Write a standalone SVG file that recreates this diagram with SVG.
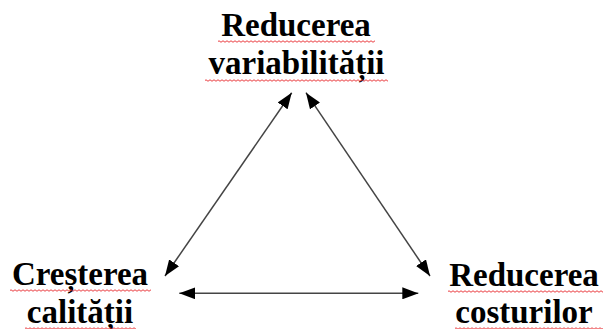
<svg xmlns="http://www.w3.org/2000/svg" width="603" height="329" viewBox="0 0 603 329">
<style>
.t{font-family:"Liberation Serif","Times New Roman",serif;font-weight:bold;font-size:33px;fill:#000;text-anchor:middle}
.c{stroke:#444;stroke-width:1.5;fill:none}
.sq{fill:url(#wave)}
</style>
<defs>
<pattern id="wave" patternUnits="userSpaceOnUse" width="4" height="3">
<path d="M0,1.5 Q1,0 2,1.5 T4,1.5" fill="none" stroke="#e8262a" stroke-width="0.9"/>
</pattern>
<marker id="ah" markerUnits="userSpaceOnUse" viewBox="0 0 16 12" refX="16" refY="6" markerWidth="16" markerHeight="12" orient="auto-start-reverse">
<path d="M0,0 L16,6 L0,12 Z" fill="#000"/>
</marker>
</defs>
<rect width="603" height="329" fill="#fff"/>
<g id="node-variabilitate">
<text class="t" x="296" y="36">Reducerea</text>
<text class="t" x="296.5" y="74">variabilității</text>
<g transform="translate(218,40)"><rect class="sq" width="157" height="3"/></g>
<g transform="translate(205,79)"><rect class="sq" width="183" height="3"/></g>
</g>
<g id="node-calitate">
<text class="t" x="80" y="285">Creșterea</text>
<text class="t" x="80" y="323">calității</text>
<g transform="translate(10,289)"><rect class="sq" width="141" height="3"/></g>
<g transform="translate(25,327)"><rect class="sq" width="111" height="3"/></g>
</g>
<g id="node-costuri">
<text class="t" x="524" y="286">Reducerea</text>
<text class="t" x="524" y="323">costurilor</text>
<g transform="translate(448,290)"><rect class="sq" width="155" height="3"/></g>
<g transform="translate(455,327)"><rect class="sq" width="148" height="3"/></g>
</g>
<g id="connectors">
<line class="c" x1="165" y1="276" x2="291.7" y2="92.7" marker-start="url(#ah)" marker-end="url(#ah)"/>
<line class="c" x1="306" y1="92.7" x2="430" y2="276" marker-start="url(#ah)" marker-end="url(#ah)"/>
<line class="c" x1="179.3" y1="293.3" x2="418.3" y2="293.3" marker-start="url(#ah)" marker-end="url(#ah)"/>
</g>
</svg>
